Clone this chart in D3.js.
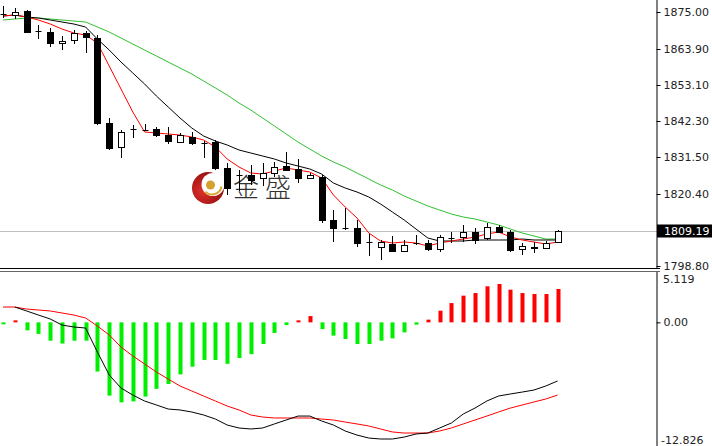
<!DOCTYPE html>
<html><head><meta charset="utf-8">
<script src="https://cdn.jsdelivr.net/npm/d3@7"></script>
<style>body{margin:0;background:#fff;overflow:hidden}svg{display:block}</style>
</head><body><svg id="c" width="712" height="446"></svg>
<script>
// ---- data ----
const openP  = [1874.4,1874.1,1875.3,1869.3,1869.0,1865.7,1866.6,1868.7,1867.2,1841.7,1834.5,1839.9,1839.6,1839.9,1838.1,1836.0,1837.5,1835.7,1836.0,1828.2,1826.1,1826.1,1825.2,1826.7,1828.8,1827.9,1825.2,1825.5,1812.6,1810.2,1810.2,1806.0,1804.5,1805.4,1803.3,1805.7,1805.7,1803.9,1807.2,1807.5,1809.0,1807.2,1810.5,1809.0,1803.9,1804.5,1804.2,1806.0];
const highP  = [1876.8,1876.2,1875.6,1871.1,1870.2,1867.8,1869.6,1869.3,1868.1,1843.2,1839.6,1841.1,1841.4,1840.5,1840.5,1838.7,1839.0,1836.3,1836.6,1829.7,1827.6,1829.1,1829.7,1830.0,1833.0,1830.9,1826.7,1826.1,1815.6,1816.2,1812.6,1808.4,1806.6,1807.8,1806.6,1808.1,1806.6,1808.1,1809.0,1811.1,1810.2,1811.7,1811.1,1809.6,1805.7,1806.0,1806.3,1809.6];
const lowP   = [1873.2,1872.9,1868.7,1866.9,1864.5,1863.6,1865.4,1862.7,1841.1,1833.6,1831.2,1837.2,1839.3,1837.5,1835.4,1835.7,1835.1,1831.2,1827.6,1820.1,1821.3,1823.1,1822.8,1825.5,1827.3,1823.7,1824.9,1811.7,1806.0,1809.6,1804.5,1801.8,1800.6,1803.0,1803.0,1805.1,1803.3,1803.0,1805.7,1806.0,1805.4,1806.6,1808.7,1803.0,1802.1,1802.7,1803.9,1805.7];
const closeP = [1874.5,1875.0,1869.0,1869.2,1865.7,1866.3,1868.7,1867.5,1841.7,1834.2,1839.0,1839.8,1839.5,1838.1,1836.3,1838.1,1835.7,1835.6,1828.2,1822.2,1826.0,1824.6,1826.7,1828.5,1827.6,1825.2,1826.1,1812.6,1810.2,1810.1,1805.7,1805.9,1806.0,1803.3,1805.1,1805.6,1803.9,1807.5,1807.3,1809.0,1806.6,1810.5,1809.0,1803.6,1804.8,1804.2,1805.7,1809.19];
const maFast = [1873.8,1874.1,1873.5,1872.6,1871.4,1869.9,1868.7,1868.1,1865.7,1858.8,1851.9,1845.0,1839.0,1838.7,1838.4,1838.1,1837.5,1836.6,1834.5,1830.9,1828.5,1826.7,1826.4,1827.3,1828.2,1827.6,1827.0,1825.2,1820.1,1816.5,1813.2,1808.7,1806.3,1805.7,1806.0,1805.7,1804.8,1805.7,1806.3,1806.9,1807.5,1808.4,1809.0,1807.5,1806.6,1806.0,1805.4,1806.0];
const maMid  = [1873.8,1874.1,1873.5,1873.2,1872.6,1872.0,1871.4,1870.5,1866.9,1863.6,1860.0,1856.7,1853.4,1849.8,1846.5,1843.2,1840.2,1837.8,1836.3,1835.1,1833.6,1832.7,1831.8,1830.9,1829.7,1828.8,1827.9,1826.4,1823.7,1822.2,1821.0,1819.5,1817.4,1815.0,1812.6,1809.9,1807.2,1806.3,1806.3,1806.3,1806.6,1806.6,1806.6,1806.6,1806.9,1806.6,1806.6,1806.6];
const maSlow = [1872.6,1872.9,1873.2,1873.2,1872.9,1872.6,1872.3,1872.0,1870.5,1869.0,1867.2,1865.4,1863.6,1861.8,1860.0,1858.2,1856.4,1854.3,1852.2,1850.1,1847.7,1845.6,1843.2,1840.8,1838.4,1836.0,1833.9,1831.8,1830.0,1828.5,1826.7,1824.9,1823.1,1821.6,1819.8,1818.3,1816.8,1815.6,1814.4,1813.5,1812.9,1812.0,1811.1,1809.9,1808.7,1807.8,1806.9,1806.9];
const macdHist = [-0.12,0.1,-0.83,-1.2,-1.9,-2.2,-1.9,-1.9,-5.1,-7.6,-8.3,-8.2,-7.7,-6.9,-6.4,-5.4,-4.6,-3.9,-3.9,-4.3,-3.7,-3.3,-2.25,-1.1,-0.28,0.2,0.65,-0.7,-1.38,-1.73,-2.25,-2.25,-1.9,-1.66,-1.04,-0.24,0.28,1.21,2.0,2.77,3.04,3.74,3.98,3.39,3.04,2.94,2.94,3.46];
const macdDif = [1.59,1.59,1.18,0.76,0.35,-0.28,-0.48,-0.59,-3.08,-5.46,-6.81,-7.54,-8.16,-8.57,-8.99,-9.09,-9.30,-9.61,-10.03,-10.65,-10.96,-11.06,-10.96,-10.54,-10.13,-9.72,-9.72,-10.23,-10.65,-11.27,-11.69,-12.00,-12.10,-12.10,-11.90,-11.58,-11.48,-10.96,-10.44,-9.51,-8.89,-8.16,-7.64,-7.43,-7.23,-7.02,-6.60,-6.08];
const macdDea = [1.59,1.59,1.38,1.28,1.18,0.97,0.76,0.45,-0.38,-1.31,-2.56,-3.49,-4.32,-5.15,-5.88,-6.60,-7.12,-7.64,-8.16,-8.68,-9.09,-9.61,-9.82,-9.92,-9.92,-9.92,-9.92,-10.03,-10.13,-10.34,-10.54,-10.75,-11.06,-11.37,-11.48,-11.48,-11.48,-11.27,-10.96,-10.54,-10.13,-9.72,-9.30,-8.89,-8.57,-8.26,-7.95,-7.54];
const priceTicks = [1875.00,1863.90,1853.10,1842.30,1831.50,1820.40,1798.80];
const lastPrice = 1809.19;
const macdMax = 5.119, macdMin = -12.826;
const watermark = "金盛";

// ---- drawing ----
const svg = d3.select("#c");
const n = closeP.length;
const x = d3.scaleLinear().domain([0, n-1]).range([3, 557.6]);
const y = d3.scaleLinear().domain([1798.2, 1878.6]).range([268, 0]);
const ym = d3.scaleLinear().domain([macdMin, macdMax]).range([446, 273]);
const px = i => Math.round(x(i)) + 0.5;
const AX = 660;

// watermark logo (behind)
const defs = svg.append("defs");
const rg = defs.append("radialGradient").attr("id","lg").attr("cx","35%").attr("cy","60%").attr("r","70%");
rg.append("stop").attr("offset","0%").attr("stop-color","#e0302a");
rg.append("stop").attr("offset","100%").attr("stop-color","#8e0d10");
const wm = svg.append("g");
wm.append("circle").attr("cx",208).attr("cy",188).attr("r",16).attr("fill","url(#lg)");
wm.append("circle").attr("cx",213).attr("cy",184.5).attr("r",11.5).attr("fill","#fff");
wm.append("path").attr("d", d3.arc()({innerRadius:8.5,outerRadius:10.5,startAngle:Math.PI*0.55,endAngle:Math.PI*1.25}))
  .attr("transform","translate(212,185)").attr("fill","#d9a93c");
wm.append("circle").attr("cx",210.5).attr("cy",185).attr("r",4.5).attr("fill","#d4a12e");
wm.append("text").attr("x",233).attr("y",197).attr("font-family","'Noto Sans CJK SC'").attr("font-size",26)
  .attr("font-weight",300).attr("letter-spacing",6).attr("fill","#333").text(watermark);

// last price line
svg.append("line").attr("x1",0).attr("x2",AX).attr("y1",Math.round(y(lastPrice))+0.5).attr("y2",Math.round(y(lastPrice))+0.5)
  .attr("stroke","#c0c0c0");

// moving averages
const lineP = d3.line().x((d,i)=>x(i)).y(d=>y(d));
[[maSlow,"#30c030"],[maMid,"#000"],[maFast,"#ff0000"]].forEach(([arr,col])=>{
  svg.append("path").attr("d",lineP(arr)).attr("fill","none").attr("stroke",col).attr("stroke-width",1);
});

// candles
const cg = svg.append("g");
d3.range(n).forEach(i=>{
  const cx = px(i);
  cg.append("line").attr("x1",cx).attr("x2",cx).attr("y1",y(highP[i])).attr("y2",y(lowP[i])).attr("stroke","#000");
  const top = Math.round(y(Math.max(openP[i],closeP[i])));
  const bot = Math.round(y(Math.min(openP[i],closeP[i])));
  const bull = closeP[i] > openP[i];
  if (bot - top < 1) {
    cg.append("line").attr("x1",cx-3).attr("x2",cx+3).attr("y1",top+0.5).attr("y2",top+0.5).attr("stroke","#000");
  } else if (bull) {
    cg.append("rect").attr("x",cx-3).attr("y",top+0.5).attr("width",6).attr("height",bot-top).attr("fill","#fff").attr("stroke","#000");
  } else {
    cg.append("rect").attr("x",cx-3.5).attr("y",top).attr("width",7).attr("height",bot-top+1).attr("fill","#000");
  }
});

// MACD histogram
const z = ym(0);
svg.append("g").selectAll("rect").data(macdHist).join("rect")
  .attr("x",(d,i)=>Math.round(x(i))-1.5).attr("width",4)
  .attr("y",d=>d>=0?Math.min(ym(d),z-2):z)
  .attr("height",d=>Math.max(2,Math.abs(ym(d)-z)))
  .attr("fill",d=>d>=0?"#ff0000":"#00ee00");
const lineM = d3.line().x((d,i)=>x(i)).y(d=>ym(d));
svg.append("path").attr("d",lineM(macdDea)).attr("fill","none").attr("stroke","#ff0000");
svg.append("path").attr("d",lineM(macdDif.slice(1))).attr("transform",`translate(${x(1)-x(0)},0)`).attr("fill","none").attr("stroke","#000");

// frames
svg.append("line").attr("x1",0).attr("x2",AX).attr("y1",268.5).attr("y2",268.5).attr("stroke","#000");
svg.append("line").attr("x1",0).attr("x2",AX).attr("y1",271.5).attr("y2",271.5).attr("stroke","#666");

// axes
const fmt = d3.format(".2f");
const ax1 = svg.append("g").attr("transform",`translate(${AX-3.5},0)`)
  .call(d3.axisRight(y).tickValues(priceTicks).tickFormat(fmt).tickSize(4).tickSizeOuter(0).tickPadding(3));
const ax2 = svg.append("g").attr("transform",`translate(${AX-3.5},0)`)
  .call(d3.axisRight(ym).tickValues([0]).tickFormat(fmt).tickSize(4).tickSizeOuter(0).tickPadding(3));
[ax1,ax2].forEach(a=>{
  a.selectAll("text").attr("font-family","'DejaVu Sans'").attr("font-size",11).attr("fill","#222");
  a.select(".domain").attr("stroke","#000");
  a.selectAll(".tick line").attr("stroke","#000");
});
ax2.select(".domain").attr("d","M0.5,272V446");
ax1.select(".domain").attr("d","M0.5,0V268.5");

svg.append("text").attr("x",663).attr("y",283).attr("font-family","'DejaVu Sans'").attr("font-size",11).attr("fill","#222").text(String(macdMax));
svg.append("text").attr("x",661).attr("y",444).attr("font-family","'DejaVu Sans'").attr("font-size",11).attr("fill","#222").text(String(macdMin));

// last price box
const ly = y(lastPrice);
svg.append("rect").attr("x",AX-3).attr("y",Math.round(ly)-6.5).attr("width",60).attr("height",13).attr("fill","#000");
svg.append("text").attr("x",AX+4).attr("y",ly+4).attr("font-family","'DejaVu Sans'").attr("font-size",11).attr("fill","#fff").text(fmt(lastPrice));
</script></body></html>
